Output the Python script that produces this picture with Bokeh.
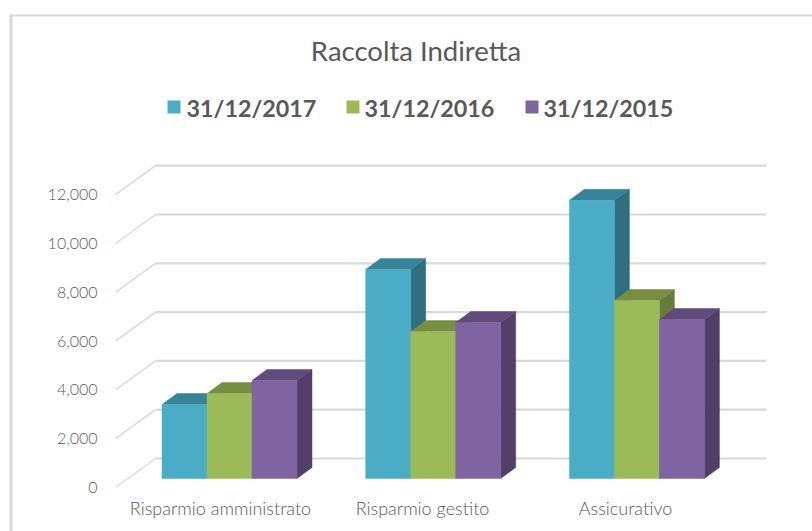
from bokeh.plotting import figure
from bokeh.embed import file_html
from bokeh.resources import INLINE
from bokeh.models import Range1d, Label

categories = ["Risparmio amministrato", "Risparmio gestito", "Assicurativo"]
series_names = ["31/12/2017", "31/12/2016", "31/12/2015"]
v2017 = [3030, 8570, 11400]
v2016 = [3480, 6020, 7295]
v2015 = [4016, 6390, 6515]
tick_values = [0, 2000, 4000, 6000, 8000, 10000, 12000]
tick_labels = ["0", "2,000", "4,000", "6,000", "8,000", "10,000", "12,000"]

front = ["#4BACC6", "#9BBB59", "#8064A2"]
top = ["#37839A", "#768D42", "#614A7C"]
side = ["#306F80", "#677C3A", "#523F68"]
grid = "#D9D9D9"
ink = "#595959"

W, H = 812, 531
PX_X = 203.7
PX_Y = 0.0244
X_ORIGIN = 229.0
x0 = -X_ORIGIN / PX_X
x1 = x0 + W / PX_X
y0 = -(H - 478) / PX_Y
y1 = y0 + H / PX_Y

p = figure(width=W, height=H, output_backend="svg", toolbar_location=None,
           x_range=Range1d(x0, x1), y_range=Range1d(y0, y1), min_border=0)
p.axis.visible = False
p.grid.visible = False
p.outline_line_color = None
p.background_fill_color = "white"
p.border_fill_color = "white"

def px(v):
    return (v - X_ORIGIN) / PX_X

def py(v):
    return (478 - v) / PX_Y

# chart frame
p.line([px(10.5), px(10.5)], [py(531), py(14)], line_color=grid, line_width=3)
p.line([px(9), px(812)], [py(15), py(15)], line_color=grid, line_width=2)

# walls and gridlines
front_off = py(487)
back_off = py(458)
xl, xb, xr = px(115), px(155), px(766)
for t in tick_values:
    p.line([xl, xb], [t + front_off, t + back_off], line_color=grid, line_width=1.5)
    p.line([xb, xr], [t + back_off, t + back_off], line_color=grid, line_width=2.2)

# bars
bw = 45 / PX_X
dx, dy = 15 / PX_X, 11 / PX_Y
for si, vals in enumerate([v2017, v2016, v2015]):
    for ci, v in enumerate(vals):
        l = ci + (si - 1.5) * bw
        r = l + bw
        p.patch([r, r + dx, r + dx, r], [0, dy, v + dy, v], fill_color=side[si], line_color=side[si], line_width=0.5)
        p.patch([l, l + dx, r + dx, r], [v, v + dy, v + dy, v], fill_color=top[si], line_color=top[si], line_width=0.5)
        p.quad(left=l, right=r, bottom=0, top=v, fill_color=front[si], line_color=front[si], line_width=0.5)

# tick labels
for t, s in zip(tick_values, tick_labels):
    p.add_layout(Label(x=px(97), y=t + front_off, text=s, text_align="right", text_baseline="middle",
                       text_font="Lato Light", text_font_size="16px", text_color=ink))

# category labels
cat_x = [220, 422, 625]
for ci, c in enumerate(categories):
    p.add_layout(Label(x=px(cat_x[ci]), y=py(507), text=c, text_align="center", text_baseline="middle",
                       text_font="Lato Light", text_font_size="18px", text_color=ink))

# title
p.add_layout(Label(x=px(415.5), y=py(50), text="Raccolta Indiretta", text_align="center", text_baseline="middle",
                   text_font="Lato", text_font_size="27.5px", text_color=ink))

# legend
leg_sq = [167, 346, 525]
leg_tx = [186, 364, 543]
for i, n in enumerate(series_names):
    sx = leg_sq[i]
    p.quad(left=px(sx), right=px(sx + 13), top=py(100), bottom=py(113), fill_color=front[i], line_color=None)
    p.add_layout(Label(x=px(leg_tx[i]), y=py(107), text=n, text_align="left", text_baseline="middle",
                       text_font="Lato", text_font_style="bold", text_font_size="23.3px", text_color=ink))

open("out.html", "w").write(file_html(p, INLINE))
